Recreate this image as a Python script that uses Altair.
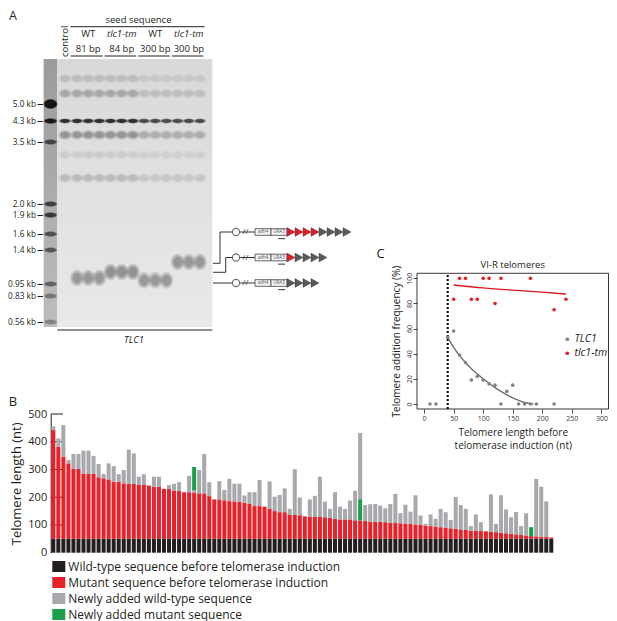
import altair as alt
import pandas as pd

def px(v):
    # reference-image pixel -> chart coordinate (page has an 8px margin)
    return v - 8

FONT = "Open Sans"
INK = "#231f20"
W, H = 601, 613

# ======================= Panel A : Southern blot =======================
marker_kb = [5.0, 4.3, 3.5, 2.0, 1.9, 1.6, 1.4, 0.95, 0.83, 0.56]
marker_int = [1.0, 0.95, 0.55, 0.6, 0.65, 0.5, 0.45, 0.4, 0.3, 0.25]
upper_kb = [6.7, 5.7, 4.3, 3.77, 3.19, 2.63]
upper_int_short = [0.12, 0.22, 0.95, 0.32, 0.07, 0.15]   # control, 81 bp, 84 bp lanes
upper_int_long = [0.07, 0.12, 0.75, 0.2, 0.05, 0.1]      # 300 bp lanes
group_names = ["WT", "tlc1-tm", "WT", "tlc1-tm"]
group_seed = ["81 bp", "84 bp", "300 bp", "300 bp"]
group_center_lane = [3, 6, 9, 12]
group_telomere_kb = [1.03, 1.11, 1.0, 1.24]
group_telomere_int = [0.3, 0.33, 0.3, 0.3]

construct_rows = [1, 2, 3]
construct_mutant_repeats = [4, 1, 0]
construct_wt_repeats = [4, 4, 4]

# ======================= Panel B : telomere sequencing =======================
bar_red_top = [442, 382, 346, 322, 302, 302, 284, 284, 284, 272, 268, 264, 256, 256, 250, 248, 248,
               244, 244, 242, 238, 238, 230, 230, 224, 224, 218, 218, 217, 214, 214, 204, 192,
               192, 189, 186, 185, 184, 180, 176, 168, 168, 166, 158, 150, 146, 146, 136, 136,
               135, 131, 130, 130, 129, 128, 126, 122, 120, 120, 120, 117, 116, 114, 112, 111,
               111, 110,
               108, 107, 106, 105, 104, 102, 100, 98, 96, 94, 92, 90, 88, 86, 84, 82, 80, 79,
               78, 77, 76, 74, 72, 70, 68, 66, 64, 62, 60, 59, 58, 57, 55]
bar_total = [455, 412, 460, 334, 356, 356, 368, 368, 349, 320, 284, 322, 312, 283, 298, 372, 358,
             274, 283, 242, 274, 274, 230, 244, 248, 254, 218, 277, 309, 298, 356, 254, 192,
             258, 226, 266, 249, 249, 206, 218, 218, 262, 166, 257, 202, 208, 232, 158, 301,
             199, 131, 192, 205, 274, 184, 158, 218, 166, 158, 188, 223, 432, 172, 175, 176,
             170, 160,
             176, 212, 143, 173, 148, 207, 134, 104, 138, 122, 158, 146, 118, 201, 172, 158,
             96, 138, 110, 77, 210, 104, 207, 156, 128, 147, 96, 142, 92, 266, 238, 185, 55]
wt_before = [50] * 100
green_bar = [29, 62, 96]
green_len = [83, 77, 32]
green_gray_below = [9, 0, 0]
seg_names = ["Wild-type sequence before telomerase induction",
             "Mutant sequence before telomerase induction",
             "Newly added wild-type sequence",
             "Newly added mutant sequence"]
seg_colors = ["#231f20", "#e8212a", "#a7a9ac", "#1a9f4b"]

# ======================= Panel C : addition frequency =======================
tlc1_x = [10, 20, 40, 50, 60, 70, 80, 90, 100, 110, 120, 130, 140, 150, 160, 170, 180, 190, 220]
tlc1_y = [0, 0, 53, 58, 39, 33, 19, 22, 19, 16, 15, 0, 10, 15, 0, 0, 0, 0, 0]
tm_x = [50, 60, 70, 80, 90, 100, 110, 120, 130, 180, 220, 240]
tm_y = [83.3, 100, 100, 83.3, 83.3, 100, 100, 80, 100, 100, 75, 83.3]
tlc1_fit_x = [40, 50, 60, 70, 80, 90, 100, 110, 120, 130, 140, 150, 160, 170, 180, 185]
tlc1_fit_y = [53, 45, 38.5, 33, 28, 24, 20, 16.5, 13, 10, 7.3, 4.8, 2.8, 1.2, 0.3, 0]
tm_fit_x = [50, 100, 150, 200, 240]
tm_fit_y = [94.7, 92.4, 90.6, 89.0, 87.5]
threshold_nt = 40

# ------------------------------------------------------------------ helpers
def txt(s, x, y, size=10, align="center", baseline="middle", style="normal", angle=0, color=INK):
    kw = dict(fontSize=size, align=align, baseline=baseline, fontStyle=style, color=color)
    if angle:
        kw["angle"] = angle
    return alt.Chart(pd.DataFrame({"t": [s]})).mark_text(**kw).encode(
        text="t:N", x=alt.value(px(x)), y=alt.value(px(y)))

# ------------------------------------------------------------------ gel layer
lane_scale = alt.Scale(domain=[0, 1, 2, 13], range=[px(50.5), px(65), px(77), px(200)])
kb_scale = alt.Scale(domain=[0.5, 0.56, 0.83, 0.95, 1.4, 1.6, 1.9, 2.0, 3.5, 4.3, 5.0, 8.0],
                     range=[px(v) for v in [327, 322, 296, 284, 250, 234, 215, 204, 142, 121, 104, 59]])
kb_axis = alt.Axis(orient="left", offset=-px(43), values=marker_kb,
                   labelExpr="datum.value < 1 ? format(datum.value, '.2f') + ' kb' : format(datum.value, '.1f') + ' kb'",
                   tickSize=6, tickColor=INK, tickWidth=1, domain=False, grid=False, title=None,
                   labelFontSize=8.3, labelColor=INK, labelPadding=1.5)

def gx(f):
    return alt.X(f, type="quantitative", scale=lane_scale, axis=None)

def gy(f):
    return alt.Y(f, type="quantitative", scale=kb_scale, axis=kb_axis)

gel_grad = alt.Gradient(gradient="linear", x1=0, x2=0, y1=0, y2=1,
                        stops=[alt.GradientStop(color="#d9d9d9", offset=0),
                               alt.GradientStop(color="#e9e9e9", offset=1)])
ladder_grad = alt.Gradient(gradient="linear", x1=0, x2=0, y1=0, y2=1,
                           stops=[alt.GradientStop(color="#9b9b9b", offset=0),
                                  alt.GradientStop(color="#bdbdbd", offset=1)])

gel_bg = alt.Chart(pd.DataFrame({"l0": [-0.52], "l1": [14.1], "k0": [0.5], "k1": [8.0]})).mark_rect(
    fill=gel_grad).encode(x=gx("l0"), x2="l1:Q", y=gy("k0"), y2="k1:Q")
ladder_bg = alt.Chart(pd.DataFrame({"l0": [-0.45], "l1": [0.45], "k0": [0.5], "k1": [8.0]})).mark_rect(
    fill=ladder_grad).encode(x=gx("l0"), x2="l1:Q", y=gy("k0"), y2="k1:Q")

band_rows = []
for lane in range(1, 14):
    ints = upper_int_short if lane <= 7 else upper_int_long
    for kb, it in zip(upper_kb, ints):
        band_rows.append(dict(lane=lane, kb=kb, op=it, kind="sharp" if kb == 4.3 else "diffuse"))
for g in range(4):
    for j in range(3):
        band_rows.append(dict(lane=group_center_lane[g] - 1 + j, kb=group_telomere_kb[g],
                              op=group_telomere_int[g], kind="blob"))
bands = pd.DataFrame(band_rows)
ladder = pd.DataFrame({"lane": [0] * len(marker_kb), "kb": marker_kb, "op": marker_int})

ELL_THIN = "M-1,0A1,0.4,0,1,0,1,0A1,0.4,0,1,0,-1,0Z"
ELL_MED = "M-1,0A1,0.7,0,1,0,1,0A1,0.7,0,1,0,-1,0Z"
ELL_TALL = "M-1,0A1,1.2,0,1,0,1,0A1,1.2,0,1,0,-1,0Z"

def band_layers(chart_data, shape, sizes, fracs):
    out = []
    for s, f in zip(sizes, fracs):
        out.append(chart_data.transform_calculate(o=f"datum.op * {f}").mark_point(
            shape=shape, size=s, filled=True, color="#141414", strokeWidth=0).encode(
            x=gx("lane"), y=gy("kb"), opacity=alt.Opacity("o:Q", scale=None)))
    return out

bands_chart = alt.Chart(bands)
gel_layers = [gel_bg, ladder_bg]
gel_layers += band_layers(bands_chart.transform_filter("datum.kind == 'diffuse'"), ELL_MED,
                          [190, 120, 70], [0.3, 0.45, 0.5])
gel_layers += band_layers(bands_chart.transform_filter("datum.kind == 'sharp'"), ELL_THIN,
                          [160, 90], [0.35, 0.85])
gel_layers += band_layers(bands_chart.transform_filter("datum.kind == 'blob'"), ELL_TALL,
                          [200, 130, 70], [0.35, 0.5, 0.55])
gel_layers += band_layers(alt.Chart(ladder).transform_filter("datum.kb == 5.0"), ELL_MED,
                          [200, 150], [0.5, 1.0])
gel_layers += band_layers(alt.Chart(ladder).transform_filter("datum.kb != 5.0"), ELL_THIN,
                          [190, 130], [0.5, 1.0])

groups = pd.DataFrame({"lane": group_center_lane, "name": group_names, "seed": group_seed})
grp = alt.Chart(groups)
HEAD = 9.5
gel_layers += [
    grp.transform_filter("datum.name == 'WT'").mark_text(fontSize=HEAD, color=INK).encode(
        x=gx("lane"), y=alt.value(px(34)), text="name:N"),
    grp.transform_filter("datum.name != 'WT'").mark_text(fontSize=HEAD, fontStyle="italic", color=INK).encode(
        x=gx("lane"), y=alt.value(px(34)), text="name:N"),
    grp.mark_text(fontSize=HEAD, color=INK).encode(x=gx("lane"), y=alt.value(px(48.5)), text="seed:N"),
    grp.transform_calculate(a="datum.lane - 1.52", b="datum.lane + 1.3").mark_rule(
        color=INK, strokeWidth=1).encode(x=gx("a:Q"), x2="b:Q", y=alt.value(px(56))),
    alt.Chart(pd.DataFrame({"a": [1.45], "b": [13.4]})).mark_rule(
        color=INK, strokeWidth=1).encode(x=gx("a"), x2="b:Q", y=alt.value(px(26.7))),
    alt.Chart(pd.DataFrame({"c": [7.5], "t": ["seed sequence"]})).mark_text(fontSize=HEAD, color=INK).encode(
        x=gx("c"), y=alt.value(px(19.5)), text="t:N"),
    alt.Chart(pd.DataFrame({"c": [1], "t": ["control"]})).mark_text(
        fontSize=9.5, color=INK, angle=270, align="left", baseline="middle").encode(
        x=gx("c"), y=alt.value(px(57)), text="t:N"),
    alt.Chart(pd.DataFrame({"a": [0.47], "b": [14.1]})).mark_rule(color=INK, strokeWidth=1).encode(
        x=gx("a"), x2="b:Q", y=alt.value(px(330))),
    alt.Chart(pd.DataFrame({"c": [7.1], "t": ["TLC1"]})).mark_text(
        fontSize=9.5, fontStyle="italic", color=INK).encode(x=gx("c"), y=alt.value(px(340)), text="t:N"),
]

# ------------------------------------------------------------------ construct diagram
dx_scale = alt.Scale(domain=[-10, 10], range=[px(207), px(367)])
dy_scale = alt.Scale(domain=[1, 3], range=[px(232), px(283)])

def dx(f):
    return alt.X(f, type="quantitative", scale=dx_scale, axis=None)

def dy(f):
    return alt.Y(f, type="quantitative", scale=dy_scale, axis=None)

tri_rows = []
for r, nm, nw in zip(construct_rows, construct_mutant_repeats, construct_wt_repeats):
    for k in range(nm + nw):
        tri_rows.append(dict(row=r, pos=k + 0.5, kind="mutant" if k < nm else "wild-type"))
tris = pd.DataFrame(tri_rows)
rows_df = pd.DataFrame({"row": construct_rows})
leaders = pd.DataFrame({
    "x": [-9.25, -8.375, -8.375, -9.25, -7.66, -7.66, -9.25],
    "x2": [-8.375, -8.375, -6.84, -7.66, -7.66, -6.84, -6.84],
    "y": [2.227, 2.227, 1, 2.58, 2.58, 2, 3],
    "y2": [2.227, 1, 1, 2.58, 2, 2, 3]})
boxes = pd.DataFrame({"row": [1, 1, 2, 2, 3, 3], "b0": [-4, -2] * 3, "b1": [-2, 0] * 3,
                      "name": ["adh4", "URA3"] * 3})

rowc = alt.Chart(rows_df)
diagram_layers = [
    alt.Chart(leaders).mark_rule(color="#333333", strokeWidth=1).encode(
        x=dx("x"), x2="x2:Q", y=dy("y"), y2="y2:Q"),
    rowc.transform_calculate(a="-5.92", b="-4").mark_rule(color="#333333", strokeWidth=1).encode(
        x=dx("a:Q"), x2="b:Q", y=dy("row")),
    rowc.transform_calculate(c="-6.375").mark_point(shape="circle", size=52, filled=False,
                                                    color="#333333", strokeWidth=1.1).encode(
        x=dx("c:Q"), y=dy("row")),
    rowc.transform_calculate(c="-5.2", t="'//'").mark_text(fontSize=8, color="#333333").encode(
        x=dx("c:Q"), y=dy("row"), text="t:N"),
    alt.Chart(boxes).transform_calculate(r0="datum.row - 0.13", r1="datum.row + 0.13").mark_rect(
        fill="#f4f4f4", stroke="#444444", strokeWidth=0.8).encode(
        x=dx("b0"), x2="b1:Q", y=dy("r0:Q"), y2="r1:Q"),
    alt.Chart(boxes).transform_calculate(c="(datum.b0 + datum.b1) / 2").mark_text(
        fontSize=4.5, color="#555555").encode(x=dx("c:Q"), y=dy("row"), text="name:N"),
    rowc.transform_calculate(a="-1.1", b="-0.25", r="datum.row + 0.26").mark_rule(
        color="#333333", strokeWidth=1).encode(x=dx("a:Q"), x2="b:Q", y=dy("r:Q")),
    alt.Chart(tris).mark_point(shape="M-1,-1.1L1,0L-1,1.1Z", size=64, filled=True,
                               stroke="#3a3a3a", strokeWidth=0.4, opacity=1).encode(
        x=dx("pos"), y=dy("row"),
        color=alt.Color("kind:N", scale=alt.Scale(domain=["mutant", "wild-type"],
                                                  range=["#e31e24", "#58595b"]), legend=None)),
]

# ------------------------------------------------------------------ panel B bars
seg_rows = []
for i in range(100):
    b = i + 1
    red, tot, wt = bar_red_top[i], bar_total[i], wt_before[i]
    seg_rows.append(dict(bar=b, y0=0, y1=wt, seg=seg_names[0]))
    seg_rows.append(dict(bar=b, y0=wt, y1=red, seg=seg_names[1]))
    cur = red
    if b in green_bar:
        j = green_bar.index(b)
        if green_gray_below[j] > 0:
            seg_rows.append(dict(bar=b, y0=cur, y1=cur + green_gray_below[j], seg=seg_names[2]))
            cur += green_gray_below[j]
        seg_rows.append(dict(bar=b, y0=cur, y1=cur + green_len[j], seg=seg_names[3]))
        cur += green_len[j]
    if tot > cur:
        seg_rows.append(dict(bar=b, y0=cur, y1=tot, seg=seg_names[2]))
segs = pd.DataFrame(seg_rows)

bar_xscale = alt.Scale(range=[px(51.3), px(553.3)], paddingInner=0.2, paddingOuter=0)
bar_yscale = alt.Scale(domain=[0, 500], range=[px(552.7), px(414)])
bar_ticks = [0, 100, 200, 300, 400, 500]
bar_axis = alt.Axis(orient="left", offset=-px(50.7), values=bar_ticks, ticks=False, domain=True,
                    domainColor=INK, domainWidth=1, grid=False, labelFontSize=11, labelColor=INK,
                    labelPadding=4, title="Telomere length (nt)", titleFontSize=13, titleColor=INK,
                    titleFontWeight="normal", titlePadding=4)

def by(f):
    return alt.Y(f, type="quantitative", scale=bar_yscale, axis=bar_axis)

bar_layers = [
    alt.Chart(pd.DataFrame({"v": bar_ticks[1:]})).mark_rule(color=INK, strokeWidth=1).encode(
        y=by("v"), x=alt.value(px(50.7)), x2=alt.value(px(63))),
    alt.Chart(segs).mark_bar().encode(
        x=alt.X("bar:O", scale=bar_xscale, axis=None),
        y=by("y0"), y2="y1:Q",
        color=alt.Color("seg:N", scale=alt.Scale(domain=seg_names, range=seg_colors),
                        legend=alt.Legend(orient="none", legendX=px(52.3), legendY=px(560), title=None,
                                          symbolType="M-1,-0.85H1V0.85H-1Z", symbolSize=169,
                                          symbolStrokeWidth=0, labelFontSize=12, labelColor=INK,
                                          labelOffset=3, rowPadding=3, padding=0, labelLimit=400))),
]

# ------------------------------------------------------------------ panel C scatter
cx_scale = alt.Scale(domain=[-12, 312], range=[px(417), px(608.5)])
cy_scale = alt.Scale(domain=[-4, 104], range=[px(409), px(273.3)])
cx_axis = alt.Axis(orient="bottom", offset=-(H - px(409)), values=[0, 50, 100, 150, 200, 250, 300],
                   tickSize=4, tickColor=INK, tickWidth=0.8, domain=False, grid=False,
                   labelFontSize=7, labelColor="#3a3a3a", labelPadding=1,
                   title=["Telomere length before", "telomerase induction (nt)"], titleFontSize=10,
                   titleColor=INK, titleFontWeight="normal", titlePadding=6, titleLineHeight=13.5)
cy_axis = alt.Axis(orient="left", offset=-px(417), values=[0, 20, 40, 60, 80, 100],
                   tickSize=4, tickColor=INK, tickWidth=0.8, domain=False, grid=False,
                   labelFontSize=7, labelColor="#3a3a3a", labelPadding=1, labelAngle=270,
                   labelAlign="center", labelBaseline="bottom",
                   title="Telomere addition frequency (%)", titleFontSize=10, titleColor=INK,
                   titleFontWeight="normal", titlePadding=4)

def cx(f):
    return alt.X(f, type="quantitative", scale=cx_scale, axis=cx_axis)

def cy(f):
    return alt.Y(f, type="quantitative", scale=cy_scale, axis=cy_axis)

pts = pd.concat([
    pd.DataFrame({"x": tlc1_x, "y": tlc1_y, "strain": "TLC1"}),
    pd.DataFrame({"x": tm_x, "y": tm_y, "strain": "tlc1-tm"})], ignore_index=True)
fit_tlc1 = pd.DataFrame({"x": tlc1_fit_x, "y": tlc1_fit_y})
fit_tm = pd.DataFrame({"x": tm_fit_x, "y": tm_fit_y})

c_layers = [
    alt.Chart(pd.DataFrame({"x0": [-12], "x1": [312], "y0": [-4], "y1": [104]})).mark_rect(
        fillOpacity=0, stroke=INK, strokeWidth=0.9).encode(x=cx("x0"), x2="x1:Q", y=cy("y0"), y2="y1:Q"),
    alt.Chart(pd.DataFrame({"x": [threshold_nt], "y0": [-4], "y1": [104]})).mark_rule(
        color="black", strokeWidth=2, strokeDash=[2, 2]).encode(x=cx("x"), y=cy("y0"), y2="y1:Q"),
    alt.Chart(fit_tlc1).mark_line(color="#6d6e71", strokeWidth=1.4, interpolate="monotone").encode(
        x=cx("x"), y=cy("y")),
    alt.Chart(fit_tm).mark_line(color="#d7191f", strokeWidth=1.4, interpolate="monotone").encode(
        x=cx("x"), y=cy("y")),
    alt.Chart(pts).mark_circle(size=13, opacity=1).encode(
        x=cx("x"), y=cy("y"),
        color=alt.Color("strain:N", scale=alt.Scale(domain=["TLC1", "tlc1-tm"], range=["#808285", "#e21f26"]),
                        legend=alt.Legend(orient="none", legendX=px(562), legendY=px(334), title=None,
                                          symbolType="circle", symbolSize=14, labelFontStyle="italic",
                                          labelFontSize=10.5, labelColor=INK, labelOffset=2,
                                          rowPadding=3, padding=0))),
    alt.Chart(pd.DataFrame({"x": [150], "y": [104], "t": ["VI-R telomeres"]})).mark_text(
        fontSize=9.5, baseline="bottom", dy=-3, color=INK).encode(x=cx("x"), y=cy("y"), text="t:N"),
]

labels = [
    txt("A", 13, 16, 12.5),
    txt("B", 13, 402, 13),
    txt("C", 380.5, 253.5, 13),
]

chart = alt.layer(
    alt.layer(*gel_layers),
    alt.layer(*diagram_layers),
    alt.layer(*bar_layers),
    alt.layer(*c_layers),
    *labels,
).resolve_scale(x="independent", y="independent", color="independent").properties(
    width=W, height=H, padding=0, autosize=alt.AutoSizeParams(type="none"),
    background="white",
).configure(font=FONT).configure_view(stroke=None)

chart.save("out.html", embed_options={"renderer": "svg", "actions": False})
